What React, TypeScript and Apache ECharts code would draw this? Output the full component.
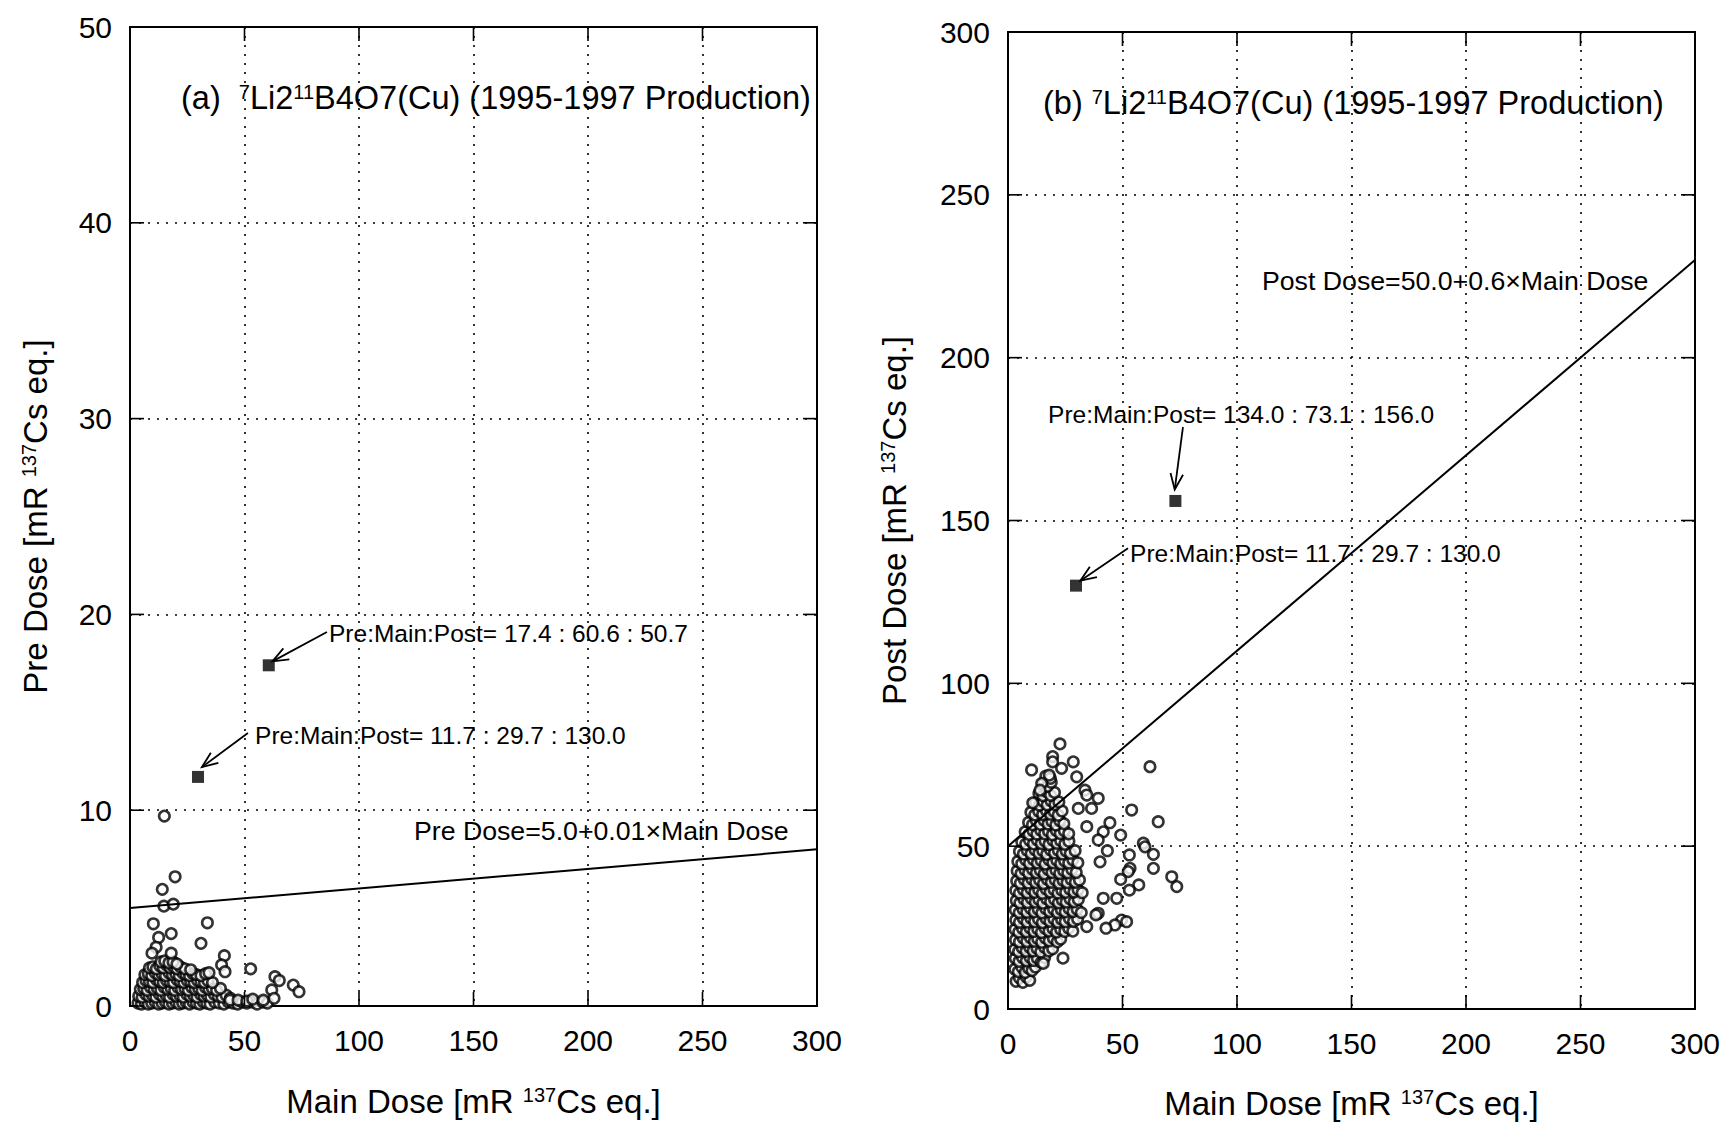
import React, { useEffect, useRef } from "react";
import * as echarts from "echarts";

const FONT = "'Liberation Sans', Arial, Helvetica, sans-serif";

// ---------- axis ticks ----------
const mainDoseTicks = [0, 50, 100, 150, 200, 250, 300];
const preDoseTicks = [0, 10, 20, 30, 40, 50];
const postDoseTicks = [0, 50, 100, 150, 200, 250, 300];

// ---------- texts ----------
const titleA = "{n|(a)  }{s|7}{n|Li2}{s|11}{n|B4O7(Cu) (1995-1997 Production)}";
const titleB = "{n|(b) }{s|7}{n|Li2}{s|11}{n|B4O7(Cu) (1995-1997 Production)}";
const xNameText = "{a|Main Dose [mR }{s|137}{a|Cs eq.]}";
const preNameText = "{a|Pre Dose [mR }{s|137}{a|Cs eq.]}";
const postNameText = "{a|Post Dose [mR }{s|137}{a|Cs eq.]}";
const preFitLabel = "Pre Dose=5.0+0.01×Main Dose";
const postFitLabel = "Post Dose=50.0+0.6×Main Dose";
const noteA1 = "Pre:Main:Post= 17.4 : 60.6 : 50.7";
const noteA2 = "Pre:Main:Post= 11.7 : 29.7 : 130.0";
const noteB1 = "Pre:Main:Post= 134.0 : 73.1 : 156.0";
const noteB2 = "Pre:Main:Post= 11.7 : 29.7 : 130.0";

// ---------- fit lines (Main, Dose) ----------
const preFit: number[][] = [[0, 5.0], [300, 8.0]];
const postFit: number[][] = [[0, 50.0], [300, 230.0]];

// ---------- highlighted points (Main, Dose) ----------
const preHighlight: number[][] = [[29.7, 11.7], [60.6, 17.4]];
const postHighlight: number[][] = [[29.7, 130.0], [73.1, 156.0]];

// ---------- scatter: Pre dose vs Main dose ----------
const preCloud: number[][] = [
  [3.5, 0.15], [5, 0.1], [6.5, 0.2], [8, 0.1], [9.5, 0.15], [11, 0.2], [12.5, 0.1], [14, 0.15], [15.5, 0.2], [17, 0.1],
  [18.5, 0.15], [20, 0.2], [21.5, 0.1], [23, 0.15], [24.5, 0.2], [26, 0.1], [27.5, 0.2], [29, 0.15], [30.5, 0.1], [32, 0.2],
  [33.5, 0.15], [35, 0.1], [37, 0.2], [39, 0.15], [41, 0.1], [43, 0.2], [45, 0.15], [47, 0.1], [49, 0.2], [51, 0.15],
  [53.5, 0.2], [55.5, 0.1], [58, 0.2], [60, 0.15],
  [3.8, 0.5], [5.3, 0.45], [6.8, 0.6], [8.3, 0.5], [9.8, 0.55], [11.3, 0.45], [12.8, 0.6], [14.3, 0.5], [15.8, 0.55], [17.3, 0.45],
  [18.8, 0.6], [20.3, 0.5], [21.8, 0.55], [23.3, 0.45], [24.8, 0.6], [26.3, 0.5], [27.8, 0.55], [29.3, 0.45], [30.8, 0.6], [32.3, 0.5],
  [33.8, 0.55], [35.3, 0.45], [36.8, 0.6], [38.5, 0.5], [40.2, 0.45], [42, 0.55], [43.8, 0.4],
  [4.5, 0.85], [6, 0.9], [7.5, 0.8], [9, 0.95], [10.5, 0.85], [12, 0.9], [13.5, 0.8], [15, 0.95], [16.5, 0.85], [18, 0.9],
  [19.5, 0.8], [21, 0.95], [22.5, 0.85], [24, 0.9], [25.5, 0.8], [27, 0.95], [28.5, 0.85], [30, 0.9], [31.5, 0.8], [33, 0.95],
  [34.5, 0.85], [36, 0.9], [37.8, 0.8], [39.5, 0.9],
  [5.5, 1.2], [7, 1.3], [8.5, 1.25], [10, 1.2], [11.5, 1.35], [13, 1.25], [14.5, 1.2], [16, 1.3], [17.5, 1.25], [19, 1.2],
  [20.5, 1.35], [22, 1.25], [23.5, 1.2], [25, 1.3], [26.5, 1.25], [28, 1.2], [29.5, 1.3], [31, 1.25], [32.5, 1.2], [34, 1.3], [36, 1.2],
  [6.5, 1.6], [8, 1.65], [9.5, 1.55], [11, 1.7], [12.5, 1.6], [14, 1.65], [15.5, 1.55], [17, 1.7], [18.5, 1.6], [20, 1.65],
  [21.5, 1.55], [23, 1.7], [24.5, 1.6], [26, 1.55], [27.5, 1.65], [29, 1.6], [31, 1.55], [33, 1.65], [34.5, 1.7],
  [8.5, 1.95], [10, 2.0], [11.5, 1.9], [13, 2.05], [14.5, 1.95], [16, 2.1], [17.5, 1.95], [19, 2.0], [20.5, 1.9], [22, 2.0],
  [24, 1.9], [26.5, 1.85],
  [13.5, 2.25], [15.2, 2.3], [17, 2.2], [18.8, 2.25], [20.5, 2.15],
  [15.0, 9.7], [19.7, 6.6], [14.1, 5.96], [14.8, 5.1], [18.9, 5.2], [10.2, 4.2], [33.8, 4.25], [18.0, 3.7], [12.5, 3.5],
  [31.0, 3.2], [11.4, 3.0], [9.6, 2.7], [18.0, 2.7], [41.2, 2.57], [40.0, 2.1], [41.5, 1.75], [52.7, 1.9], [63.3, 1.5],
  [65.2, 1.3], [71.3, 1.07], [73.8, 0.73], [61.9, 0.82], [62.9, 0.39], [43.7, 0.3], [47.2, 0.3], [51, 0.25], [53.6, 0.35],
  [58.2, 0.3],
];

// ---------- scatter: Post dose vs Main dose ----------
const postCloud: number[][] = [
  [3.5, 8.5], [5, 9.5], [6.5, 8.2], [8, 9.8], [9.5, 8.8],
  [3, 12.2], [4.5, 11.5], [6, 12.8], [7.5, 11.2], [9, 12.5], [10.5, 11.8], [12, 12.9],
  [3.2, 15.5], [4.8, 14.6], [6.3, 15.8], [8, 14.8], [9.6, 15.9], [11.2, 14.9], [12.8, 15.6], [14.5, 14.3], [16, 15.8],
  [3, 18.3], [4.6, 17.6], [6.2, 18.8], [7.9, 17.7], [9.5, 18.9], [11, 17.8], [12.7, 18.6], [14.3, 17.5], [16, 18.9], [17.8, 17.8], [19.5, 18.5],
  [3.3, 21.2], [5, 20.6], [6.6, 21.8], [8.2, 20.7], [9.8, 21.9], [11.5, 20.8], [13, 21.6], [14.7, 20.5], [16.3, 21.8], [18, 20.9],
  [19.8, 21.7], [21.5, 20.6], [23, 21.5],
  [3.1, 24.4], [4.7, 23.6], [6.3, 24.7], [8, 23.7], [9.6, 24.9], [11.3, 23.8], [13, 24.6], [14.6, 23.5], [16.2, 24.8], [17.9, 23.9],
  [19.6, 24.7], [21.2, 23.6], [23, 24.5], [24.8, 23.8], [26.5, 24.8], [28.3, 23.9],
  [3.4, 27.3], [5, 26.6], [6.7, 27.8], [8.3, 26.7], [10, 27.9], [11.6, 26.8], [13.3, 27.6], [15, 26.5], [16.6, 27.8], [18.3, 26.9],
  [20, 27.7], [21.7, 26.6], [23.4, 27.5], [25, 26.8], [26.8, 27.8], [28.6, 26.9], [30.4, 27.6],
  [3.2, 30.4], [4.9, 29.6], [6.5, 30.7], [8.2, 29.7], [9.8, 30.9], [11.5, 29.8], [13.2, 30.6], [14.8, 29.5], [16.5, 30.8], [18.2, 29.9],
  [19.9, 30.7], [21.6, 29.6], [23.3, 30.5], [25, 29.8], [26.7, 30.8], [28.4, 29.9], [30.2, 30.6], [32, 29.6],
  [3.6, 33.3], [5.2, 32.6], [6.9, 33.8], [8.5, 32.7], [10.2, 33.9], [11.9, 32.8], [13.5, 33.6], [15.2, 32.5], [16.9, 33.8], [18.6, 32.9],
  [20.3, 33.7], [22, 32.6], [23.7, 33.5], [25.4, 32.8], [27.1, 33.8], [28.9, 32.9], [30.7, 33.6],
  [3.4, 36.4], [5, 35.6], [6.7, 36.7], [8.4, 35.7], [10, 36.9], [11.7, 35.8], [13.4, 36.6], [15, 35.5], [16.7, 36.8], [18.4, 35.9],
  [20.1, 36.7], [21.8, 35.6], [23.5, 36.5], [25.2, 35.8], [27, 36.8], [28.8, 35.9], [30.6, 36.6], [32.4, 35.7],
  [3.8, 39.3], [5.4, 38.6], [7.1, 39.8], [8.8, 38.7], [10.4, 39.9], [12.1, 38.8], [13.8, 39.6], [15.5, 38.5], [17.2, 39.8], [18.9, 38.9],
  [20.6, 39.7], [22.3, 38.6], [24, 39.5], [25.8, 38.8], [27.6, 39.8], [29.4, 38.9], [31.2, 39.6],
  [4, 42.4], [5.7, 41.6], [7.4, 42.7], [9, 41.7], [10.7, 42.9], [12.4, 41.8], [14.1, 42.6], [15.8, 41.5], [17.5, 42.8], [19.2, 41.9],
  [20.9, 42.7], [22.6, 41.6], [24.3, 42.5], [26.1, 41.8], [27.9, 42.8], [29.8, 41.9],
  [4.3, 45.3], [6, 44.6], [7.7, 45.8], [9.4, 44.7], [11.1, 45.9], [12.8, 44.8], [14.5, 45.6], [16.2, 44.5], [17.9, 45.8], [19.6, 44.9],
  [21.3, 45.7], [23, 44.6], [24.7, 45.5], [26.5, 44.8], [28.3, 45.8], [30.5, 44.9],
  [5, 48.4], [6.7, 47.6], [8.4, 48.7], [10.1, 47.7], [11.8, 48.9], [13.5, 47.8], [15.2, 48.6], [16.9, 47.5], [18.6, 48.8], [20.3, 47.9],
  [22, 48.7], [23.7, 47.6], [25.4, 48.5], [27.2, 47.8], [29.3, 48.6],
  [6, 51.3], [7.7, 50.6], [9.4, 51.8], [11.1, 50.7], [12.8, 51.9], [14.5, 50.8], [16.2, 51.6], [17.9, 50.5], [19.6, 51.8], [21.3, 50.9],
  [23, 51.7], [24.8, 50.6], [26.6, 51.5],
  [7.5, 54.4], [9.2, 53.6], [10.9, 54.7], [12.6, 53.7], [14.3, 54.9], [16, 53.8], [17.7, 54.6], [19.4, 53.5], [21.1, 54.8], [22.8, 53.9],
  [24.6, 54.7], [26.5, 53.8],
  [9, 57.3], [10.7, 56.6], [12.4, 57.8], [14.1, 56.7], [15.8, 57.9], [17.5, 56.8], [19.2, 57.6], [20.9, 56.5], [22.6, 57.8], [24.4, 56.9],
  [10, 60.4], [11.7, 59.6], [13.4, 60.7], [15.1, 59.7], [16.8, 60.9], [18.5, 59.8], [20.2, 60.6], [21.9, 59.5], [23.6, 60.8],
  [12, 63.3], [13.7, 62.6], [15.4, 63.8], [17.1, 62.7], [18.8, 63.9], [20.5, 62.8], [22.2, 63.6],
  [13.5, 66.2], [15.2, 65.5], [16.9, 66.7], [18.6, 65.6], [20.3, 66.5],
  [15.5, 69.3], [17.2, 68.4], [18.9, 69.6],
  [16.5, 71.5], [18.5, 70.8],
  [22.7, 81.4], [19.5, 77.5], [19.5, 75.9], [28.5, 75.9], [10.3, 73.4], [23.4, 73.9], [30.0, 71.3], [62, 74.4], [18.0, 71.8],
  [14.7, 69.3], [14, 67.2], [33.6, 67.2], [34.4, 65.7], [39.4, 64.7], [10.8, 63.3], [30.7, 61.6], [36.5, 61.6], [54, 61.1],
  [65.6, 57.5], [34.4, 56], [44.5, 57.2], [41.6, 54.4], [49.2, 53.4], [39.4, 51.9], [59.1, 50.9], [59.8, 49.8], [43.4, 48.6],
  [53, 47.3], [63.5, 47.5], [40.2, 45.2], [53.3, 43.2], [52.5, 42.2], [63.5, 43.2], [71.5, 40.6], [73.7, 37.6], [49.2, 39.8],
  [57.1, 38.1], [53, 36.5], [41.6, 34], [47.5, 34], [39.4, 29.4], [38.4, 28.9], [49.6, 27.3], [51.8, 26.8], [46.7, 25.8],
  [42.8, 24.8], [34.4, 25.3], [24, 15.6], [15.4, 14],
];

// ---------- annotation placement (data coordinates of anchors) ----------
const layoutA = {
  notes: [
    { text: noteA1, at: [86.9, 19.05], tail: [86.0, 19.1], head: [62.2, 17.6] },
    { text: noteA2, at: [54.6, 13.84], tail: [51.5, 13.94], head: [31.4, 12.2] },
  ],
  fit: { text: preFitLabel, at: [124, 8.94] },
};
const layoutB = {
  notes: [
    { text: noteB1, at: [17.5, 182.4], tail: [76.4, 178.7], head: [72.8, 159.5] },
    { text: noteB2, at: [53.3, 140.0], tail: [52.4, 141.5], head: [31.6, 131.5] },
  ],
  fit: { text: postFitLabel, at: [110.9, 223.5] },
};

function axisRange(ticks: number[]) {
  return { min: ticks[0], max: ticks[ticks.length - 1], interval: ticks[1] - ticks[0] };
}

const supRich = {
  a: { fontSize: 33, fontFamily: FONT, color: "#000", lineHeight: 33 },
  s: { fontSize: 20, fontFamily: FONT, color: "#000", verticalAlign: "top", lineHeight: 20 },
};

function mainAxis(gridIndex: number, ticks: number[], dim: "x" | "y", name: string, nameGap: number) {
  return {
    gridIndex,
    type: "value",
    ...axisRange(ticks),
    position: dim === "x" ? "bottom" : "left",
    axisLine: { show: false },
    axisTick: { show: false },
    axisLabel: { show: true, fontSize: 30, color: "#000", fontFamily: FONT, margin: dim === "x" ? 19 : 18 },
    splitLine: { show: true, lineStyle: { color: "#000", width: 1.6, type: [2, 7] } },
    name,
    nameLocation: "middle",
    nameGap,
    nameTextStyle: { fontSize: 33, fontFamily: FONT, color: "#000", rich: supRich },
  };
}

function arrow(tail: number[], head: number[]) {
  const dx = head[0] - tail[0];
  const dy = head[1] - tail[1];
  const len = Math.hypot(dx, dy) || 1;
  const bx = -dx / len;
  const by = -dy / len;
  const L = 17;
  const ang = 0.38;
  const c = Math.cos(ang);
  const s = Math.sin(ang);
  const p1 = [head[0] + L * (bx * c - by * s), head[1] + L * (bx * s + by * c)];
  const p2 = [head[0] + L * (bx * c + by * s), head[1] + L * (-bx * s + by * c)];
  const st = { stroke: "#000", lineWidth: 1.8, fill: null };
  return [
    { type: "line", z: 50, shape: { x1: tail[0], y1: tail[1], x2: head[0], y2: head[1] }, style: st },
    { type: "polyline", z: 50, shape: { points: [p1, head, p2] }, style: st },
  ];
}

export default function App() {
  const ref = useRef<HTMLDivElement>(null);
  useEffect(() => {
    if (!ref.current) return;
    const chart = echarts.init(ref.current, undefined, { renderer: "svg" });
    const cloudStyle = { color: "#fff", borderColor: "#000", borderWidth: 2.6 };
    const option: any = {
      animation: false,
      backgroundColor: "#fff",
      grid: [
        { left: 130, top: 27, width: 687, height: 979, show: true, borderColor: "#000", borderWidth: 2, backgroundColor: "transparent" },
        { left: 1008, top: 32, width: 687, height: 977, show: true, borderColor: "#000", borderWidth: 2, backgroundColor: "transparent" },
      ],
      xAxis: [
        mainAxis(0, mainDoseTicks, "x", xNameText, 79),
        mainAxis(1, mainDoseTicks, "x", xNameText, 78),
      ],
      yAxis: [
        mainAxis(0, preDoseTicks, "y", preNameText, 78),
        mainAxis(1, postDoseTicks, "y", postNameText, 97),
      ],
      series: [
        {
          type: "scatter", xAxisIndex: 0, yAxisIndex: 0, data: preCloud, symbol: "circle", symbolSize: 10.5,
          itemStyle: cloudStyle, silent: true,
        },
        {
          type: "line", xAxisIndex: 0, yAxisIndex: 0, data: preFit, showSymbol: false, symbol: "none",
          lineStyle: { color: "#000", width: 2 }, silent: true, z: 5,
        },
        {
          type: "scatter", xAxisIndex: 0, yAxisIndex: 0, data: preHighlight, symbol: "rect", symbolSize: 12,
          itemStyle: { color: "#000" }, silent: true, z: 6,
        },
        {
          type: "scatter", xAxisIndex: 1, yAxisIndex: 1, data: postCloud, symbol: "circle", symbolSize: 10.5,
          itemStyle: cloudStyle, silent: true,
        },
        {
          type: "line", xAxisIndex: 1, yAxisIndex: 1, data: postFit, showSymbol: false, symbol: "none",
          lineStyle: { color: "#000", width: 2 }, silent: true, z: 5,
        },
        {
          type: "scatter", xAxisIndex: 1, yAxisIndex: 1, data: postHighlight, symbol: "rect", symbolSize: 12,
          itemStyle: { color: "#000" }, silent: true, z: 6,
        },
      ],
    };
    chart.setOption(option);

    const titleRich = {
      n: { fontSize: 32.5, fontFamily: FONT, fill: "#000", color: "#000", lineHeight: 33 },
      s: { fontSize: 20, fontFamily: FONT, fill: "#000", color: "#000", verticalAlign: "top", lineHeight: 20 },
    };
    const graphics: any[] = [
      {
        type: "text", x: 181, y: 98, z: 60,
        style: { text: titleA, rich: titleRich, verticalAlign: "middle", align: "left", fontFamily: FONT, fontSize: 32.5, fill: "#000" },
      },
      {
        type: "text", x: 1043, y: 103, z: 60,
        style: { text: titleB, rich: titleRich, verticalAlign: "middle", align: "left", fontFamily: FONT, fontSize: 32.5, fill: "#000" },
      },
    ];
    const TICK = 14;
    const tickStyle = { stroke: "#000", lineWidth: 1.6 };
    const addTicks = (finder: any, xt: number[], yt: number[]) => {
      const px = (p: number[]) => chart.convertToPixel(finder, p) as number[];
      const x0 = xt[0], x1 = xt[xt.length - 1], y0 = yt[0], y1 = yt[yt.length - 1];
      for (const v of xt) {
        const b = px([v, y0]);
        const t = px([v, y1]);
        graphics.push({ type: "line", z: 40, shape: { x1: b[0], y1: b[1], x2: b[0], y2: b[1] - TICK }, style: tickStyle });
        graphics.push({ type: "line", z: 40, shape: { x1: t[0], y1: t[1], x2: t[0], y2: t[1] + TICK }, style: tickStyle });
      }
      for (const v of yt) {
        const l = px([x0, v]);
        const r = px([x1, v]);
        graphics.push({ type: "line", z: 40, shape: { x1: l[0], y1: l[1], x2: l[0] + TICK, y2: l[1] }, style: tickStyle });
        graphics.push({ type: "line", z: 40, shape: { x1: r[0], y1: r[1], x2: r[0] - TICK, y2: r[1] }, style: tickStyle });
      }
    };
    const addLayout = (layout: any, finder: any) => {
      const px = (p: number[]) => chart.convertToPixel(finder, p) as number[];
      for (const n of layout.notes) {
        const at = px(n.at);
        graphics.push({
          type: "text", x: at[0], y: at[1], z: 60,
          style: { text: n.text, fontSize: 24.5, fontFamily: FONT, fill: "#000", align: "left", verticalAlign: "middle" },
        });
        graphics.push(...arrow(px(n.tail), px(n.head)));
      }
      const f = px(layout.fit.at);
      graphics.push({
        type: "text", x: f[0], y: f[1], z: 60,
        style: { text: layout.fit.text, fontSize: 26.7, fontFamily: FONT, fill: "#000", align: "left", verticalAlign: "middle" },
      });
    };
    const finderA = { xAxisIndex: 0, yAxisIndex: 0 };
    const finderB = { xAxisIndex: 1, yAxisIndex: 1 };
    addTicks(finderA, mainDoseTicks, preDoseTicks);
    addTicks(finderB, mainDoseTicks, postDoseTicks);
    addLayout(layoutA, finderA);
    addLayout(layoutB, finderB);
    chart.setOption({ graphic: graphics });

    return () => chart.dispose();
  }, []);
  return (
    <div
      ref={ref}
      style={{ position: "absolute", left: 0, top: 0, width: 1731, height: 1128, background: "#fff" }}
    />
  );
}
